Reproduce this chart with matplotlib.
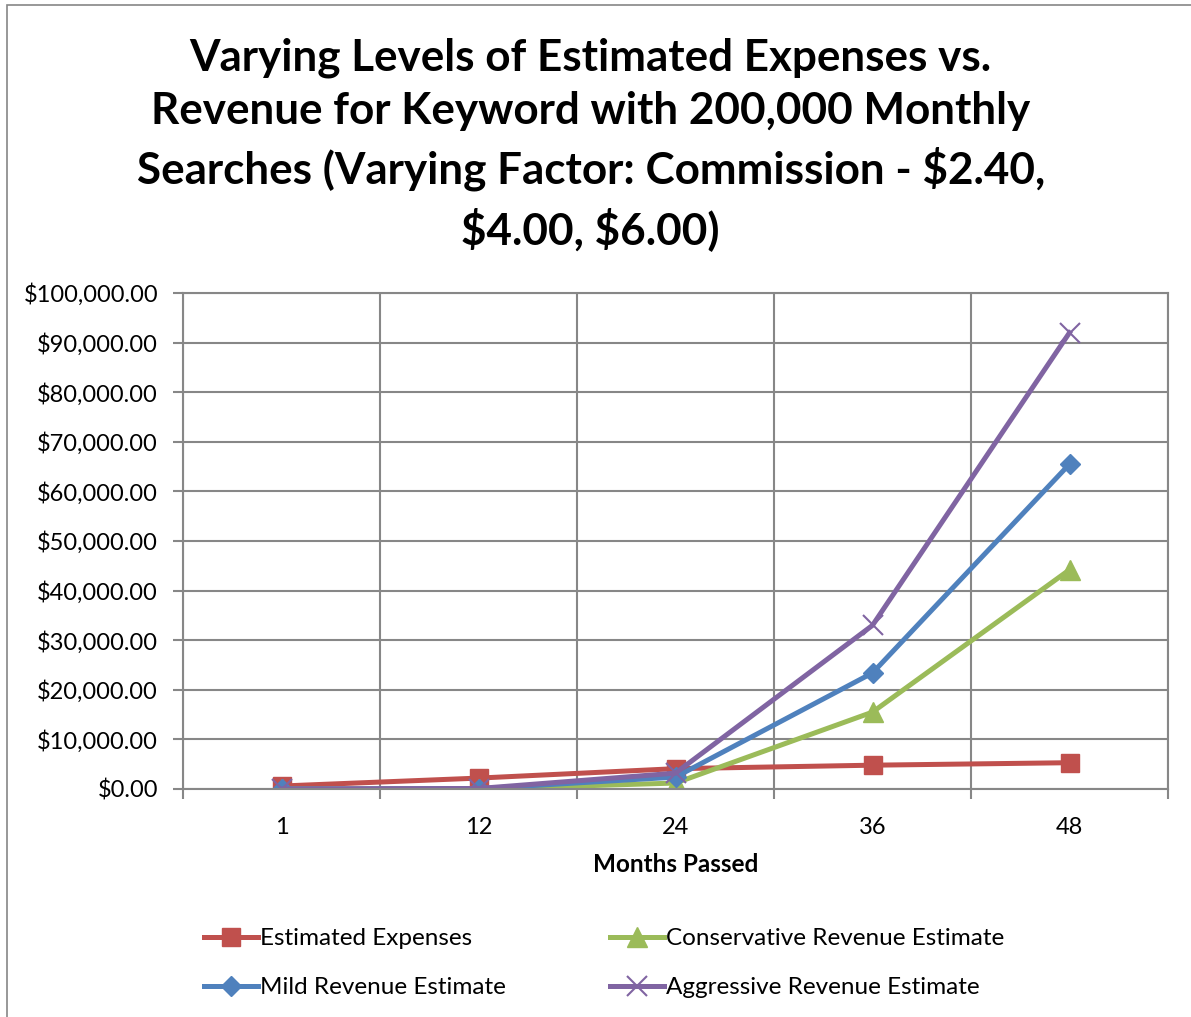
import matplotlib.pyplot as plt
import matplotlib.ticker as mticker
from matplotlib.patches import Rectangle

# ---------- data ----------
months = ["1", "12", "24", "36", "48"]
expenses = [600, 2200, 4100, 4800, 5300]
conservative = [0, 0, 1200, 15500, 44200]
mild = [0, 50, 2400, 23400, 65500]
aggressive = [0, 100, 3200, 33000, 92000]

series_names = ["Estimated Expenses", "Conservative Revenue Estimate",
                "Mild Revenue Estimate", "Aggressive Revenue Estimate"]

title = ("Varying Levels of Estimated Expenses vs.\n"
         "Revenue for Keyword with 200,000 Monthly\n"
         "Searches (Varying Factor: Commission - \\$2.40,\n"
         "\\$4.00, \\$6.00)")

plt.rcParams["font.family"] = ["Lato", "DejaVu Sans"]

fig = plt.figure(figsize=(11.91, 10.17), dpi=100)
ax = fig.add_axes([183 / 1191, 1 - 789 / 1017, 985 / 1191, 496 / 1017])

grid_col = "#878787"
x = range(len(months))

ax.plot(x, expenses, color="#C0504D", lw=3.6, marker="s", ms=13, label=series_names[0])
ax.plot(x, conservative, color="#9BBB59", lw=3.6, marker="^", ms=14, label=series_names[1])
ax.plot(x, mild, color="#4F81BD", lw=3.6, marker="D", ms=10.5, label=series_names[2])
ax.plot(x, aggressive, color="#8064A2", lw=3.6, marker="x", ms=15, mew=1.5,
        label=series_names[3])

ax.set_xlim(-0.5, len(months) - 0.5)
ax.set_ylim(0, 100000)
ax.set_yticks(range(0, 100001, 10000))
ax.yaxis.set_major_formatter(mticker.FuncFormatter(lambda v, p: f"${v:,.2f}"))

# category labels centered, tick marks on the boundaries
ax.set_xticks(list(x))
ax.set_xticklabels(months)
ax.set_xticks([i - 0.5 for i in range(len(months) + 1)], minor=True)
ax.tick_params(axis="x", which="major", length=0, pad=20, labelsize=17)
ax.tick_params(axis="x", which="minor", length=7, width=1.5, color=grid_col)
ax.tick_params(axis="y", length=7, width=1.5, color=grid_col, labelsize=17, pad=11)

ax.grid(True, axis="y", which="major", color=grid_col, lw=1.5)
ax.grid(True, axis="x", which="minor", color=grid_col, lw=1.5)
ax.set_axisbelow(True)
for s in ax.spines.values():
    s.set_color(grid_col)
    s.set_linewidth(1.5)

ax.set_xlabel("Months Passed", fontsize=17.5, fontweight="bold", labelpad=11)

fig.text(0.496, 1 - 37 / 1017, title, ha="center", va="top", fontsize=31.7,
         fontweight="bold", linespacing=1.42)

# legend
order = [0, 2, 1, 3]
handles, labels = ax.get_legend_handles_labels()
fig.legend([handles[i] for i in order], [labels[i] for i in order],
           ncol=2, loc="center left", bbox_to_anchor=(0.153, 0.053),
           frameon=False, fontsize=17.5, handlelength=2.2, handletextpad=0.1,
           columnspacing=4.3, labelspacing=1.15)

# chart border
fig.patches.append(Rectangle((7 / 1191, -0.01), 1.1, 1 - 5 / 1017 + 0.01,
                             transform=fig.transFigure, fill=False,
                             edgecolor="#868686", lw=1.2))

fig.savefig("out.png", dpi=100, facecolor="white")
